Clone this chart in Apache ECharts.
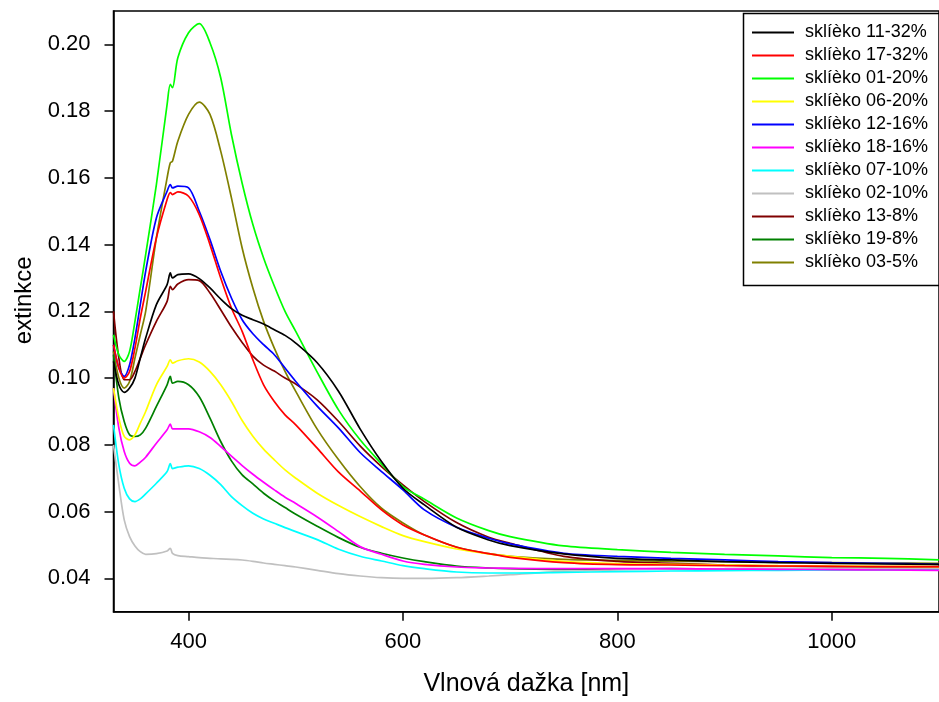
<!DOCTYPE html>
<html>
<head>
<meta charset="utf-8">
<script src="https://cdn.jsdelivr.net/npm/echarts@6/dist/echarts.min.js"></script>
<style>
html,body{margin:0;padding:0;background:#fff;}
#chart{width:939px;height:702px;}
</style>
</head>
<body>
<div id="chart"></div>
<script>
var wavelengths = [330,335,340,345,350,355,360,370,380,383,385,390,400,410,420,430,440,450,460,470,480,490,500,520,540,560,580,600,620,650,680,700,750,800,850,900,950,1000,1050,1100];

var s11_32 = [0.105,0.098,0.0957,0.097,0.100,0.106,0.112,0.122,0.128,0.1315,0.130,0.131,0.1312,0.1298,0.127,0.1237,0.1208,0.1188,0.1175,0.1162,0.1145,0.1128,0.1105,0.1046,0.096,0.0848,0.075,0.067,0.062,0.0553,0.0515,0.0498,0.0473,0.046,0.0455,0.045,0.0447,0.0445,0.0443,0.0442];
var s17_32 = [0.110,0.103,0.100,0.102,0.109,0.118,0.126,0.142,0.1535,0.1556,0.155,0.1558,0.1545,0.149,0.140,0.130,0.121,0.114,0.1055,0.098,0.093,0.089,0.086,0.079,0.0718,0.0662,0.0605,0.056,0.053,0.0493,0.0474,0.0463,0.0447,0.0441,0.044,0.0438,0.0437,0.0436,0.0435,0.0435];
var s01_20 = [0.113,0.107,0.105,0.108,0.117,0.127,0.137,0.158,0.182,0.188,0.187,0.196,0.2035,0.2062,0.2005,0.190,0.173,0.1584,0.146,0.136,0.1276,0.120,0.114,0.1018,0.0904,0.0815,0.0743,0.0675,0.0637,0.0581,0.0543,0.0525,0.0497,0.0486,0.0478,0.0472,0.0467,0.0462,0.046,0.0455];
var s06_20 = [0.097,0.088,0.0825,0.0815,0.083,0.0865,0.090,0.098,0.1035,0.1055,0.1045,0.1052,0.1058,0.1048,0.102,0.098,0.093,0.0873,0.0826,0.0787,0.0755,0.0725,0.070,0.0655,0.0618,0.0585,0.0555,0.0528,0.051,0.0488,0.0473,0.0466,0.0451,0.0444,0.0442,0.044,0.0438,0.0437,0.0436,0.0435];
var s12_16 = [0.110,0.103,0.1005,0.104,0.112,0.122,0.132,0.148,0.156,0.158,0.157,0.1575,0.157,0.150,0.1415,0.132,0.124,0.1175,0.1133,0.110,0.107,0.103,0.099,0.0916,0.085,0.0777,0.072,0.0665,0.0605,0.0553,0.052,0.0503,0.0475,0.0466,0.046,0.0455,0.045,0.0447,0.0445,0.0442];
var s18_16 = [0.097,0.085,0.078,0.0745,0.0737,0.0748,0.0763,0.0805,0.0845,0.0862,0.0848,0.0848,0.0848,0.0839,0.0822,0.0795,0.0766,0.0738,0.0712,0.0688,0.0665,0.0643,0.0624,0.0584,0.054,0.0495,0.0472,0.0452,0.0442,0.0434,0.0431,0.043,0.0429,0.0429,0.0429,0.0428,0.0427,0.0426,0.0425,0.0424];
var s07_10 = [0.086,0.074,0.067,0.0638,0.063,0.0638,0.0653,0.0685,0.072,0.0744,0.0729,0.0733,0.0737,0.0729,0.0709,0.0681,0.0645,0.0618,0.0595,0.0578,0.0565,0.0552,0.054,0.0516,0.0487,0.0466,0.0452,0.0438,0.0429,0.0419,0.0416,0.0416,0.0418,0.042,0.0422,0.0423,0.0424,0.0425,0.0425,0.0425];
var s02_10 = [0.080,0.068,0.0575,0.0525,0.0497,0.048,0.0472,0.0474,0.0482,0.049,0.0475,0.0468,0.0465,0.0462,0.046,0.0458,0.0457,0.0455,0.0451,0.0446,0.0442,0.0438,0.0434,0.0424,0.0414,0.0407,0.0402,0.040,0.040,0.0402,0.0407,0.0411,0.0421,0.0425,0.0428,0.0429,0.043,0.043,0.043,0.043];
var s13_8 = [0.120,0.106,0.0995,0.0995,0.102,0.106,0.110,0.117,0.123,0.1275,0.1265,0.1282,0.1295,0.1292,0.1255,0.1205,0.1153,0.1107,0.1066,0.1039,0.1021,0.100,0.0982,0.0935,0.087,0.0797,0.0735,0.068,0.063,0.0567,0.0523,0.0505,0.0466,0.0451,0.0445,0.044,0.0437,0.0435,0.0433,0.0432];
var s19_8 = [0.107,0.094,0.087,0.083,0.0825,0.083,0.085,0.0915,0.098,0.1005,0.0985,0.099,0.098,0.0944,0.088,0.081,0.0752,0.071,0.0683,0.0655,0.0632,0.0612,0.0592,0.0556,0.0522,0.0493,0.0475,0.0461,0.045,0.0437,0.0431,0.0429,0.0427,0.0428,0.0429,0.0428,0.0427,0.0426,0.0426,0.0425];
var s03_5 = [0.108,0.100,0.097,0.099,0.106,0.113,0.120,0.142,0.160,0.1645,0.165,0.171,0.179,0.1827,0.179,0.168,0.154,0.139,0.127,0.117,0.109,0.102,0.096,0.0847,0.0755,0.0675,0.061,0.0566,0.053,0.0494,0.0474,0.0466,0.0457,0.0454,0.0451,0.045,0.0448,0.0447,0.0446,0.0445];

var seriesNames = ['sklíèko 11-32%','sklíèko 17-32%','sklíèko 01-20%','sklíèko 06-20%','sklíèko 12-16%','sklíèko 18-16%','sklíèko 07-10%','sklíèko 02-10%','sklíèko 13-8%','sklíèko 19-8%','sklíèko 03-5%'];
var seriesValues = [s11_32,s17_32,s01_20,s06_20,s12_16,s18_16,s07_10,s02_10,s13_8,s19_8,s03_5];
var seriesColors = ['#000000','#ff0000','#00ff00','#ffff00','#0000ff','#ff00ff','#00ffff','#c0c0c0','#800000','#008000','#808000'];

var xTicks = [400,600,800,1000];
var yTicks = [0.04,0.06,0.08,0.10,0.12,0.14,0.16,0.18,0.20];

var chart = echarts.init(document.getElementById('chart'), null, {renderer:'canvas'});

var series = seriesNames.map(function(name, i){
  return {
    name: name,
    type: 'line',
    data: wavelengths.map(function(w, j){ return [w, seriesValues[i][j]]; }),
    symbol: 'none',
    showSymbol: false,
    smooth: 0.3,
    lineStyle: {color: seriesColors[i], width: 1.7},
    itemStyle: {color: seriesColors[i]},
    emphasis: {disabled: true},
    z: 2 + (seriesNames.length - i)
  };
});

var font = 'Liberation Sans, Arial, sans-serif';

chart.setOption({
  animation: false,
  backgroundColor: '#ffffff',
  grid: {left: 113.5, top: 11, right: -8.7, bottom: 90.3, show: true, borderColor: '#000', borderWidth: 1.5, containLabel: false},
  xAxis: {
    type: 'value', min: 330, max: 1100,
    name: 'Vlnová dažka [nm]', nameLocation: 'middle', nameGap: 60,
    nameTextStyle: {fontSize: 25, color: '#000', fontFamily: font},
    axisLine: {show: true, onZero: false, lineStyle: {color: '#000', width: 1.5}},
    axisTick: {show: true, inside: false, length: 9, customValues: xTicks, lineStyle: {color: '#000', width: 1.5}},
    axisLabel: {show: true, margin: 19, customValues: xTicks, fontSize: 22, color: '#000', fontFamily: font,
      formatter: function(v){ return String(Math.round(v)); }},
    splitLine: {show: false}
  },
  yAxis: {
    type: 'value', min: 0.03, max: 0.21,
    name: 'extinkce', nameLocation: 'middle', nameGap: 71,
    nameTextStyle: {fontSize: 24, color: '#000', fontFamily: font, padding: [0, 0, 0, 22]},
    axisLine: {show: true, onZero: false, lineStyle: {color: '#000', width: 1.5}},
    axisTick: {show: true, inside: false, length: 9, customValues: yTicks, lineStyle: {color: '#000', width: 1.5}},
    axisLabel: {show: true, margin: 23, customValues: yTicks, fontSize: 22, color: '#000', fontFamily: font,
      formatter: function(v){ return v.toFixed(2); }},
    splitLine: {show: false}
  },
  legend: {
    show: true, orient: 'vertical', left: 752, top: 23.5, padding: 0,
    icon: 'rect', itemWidth: 42, itemHeight: 2, itemGap: 5,
    data: seriesNames,
    textStyle: {fontSize: 18, lineHeight: 18, color: '#000', fontFamily: font, padding: [0,0,0,6]},
    selectedMode: false
  },
  graphic: [{
    type: 'rect', left: 741, top: 11, z: 100,
    shape: {x: 0, y: 0, width: 260, height: 272},
    style: {fill: 'none', stroke: '#000', lineWidth: 1.5}
  }],
  series: series
});
</script>
</body>
</html>
